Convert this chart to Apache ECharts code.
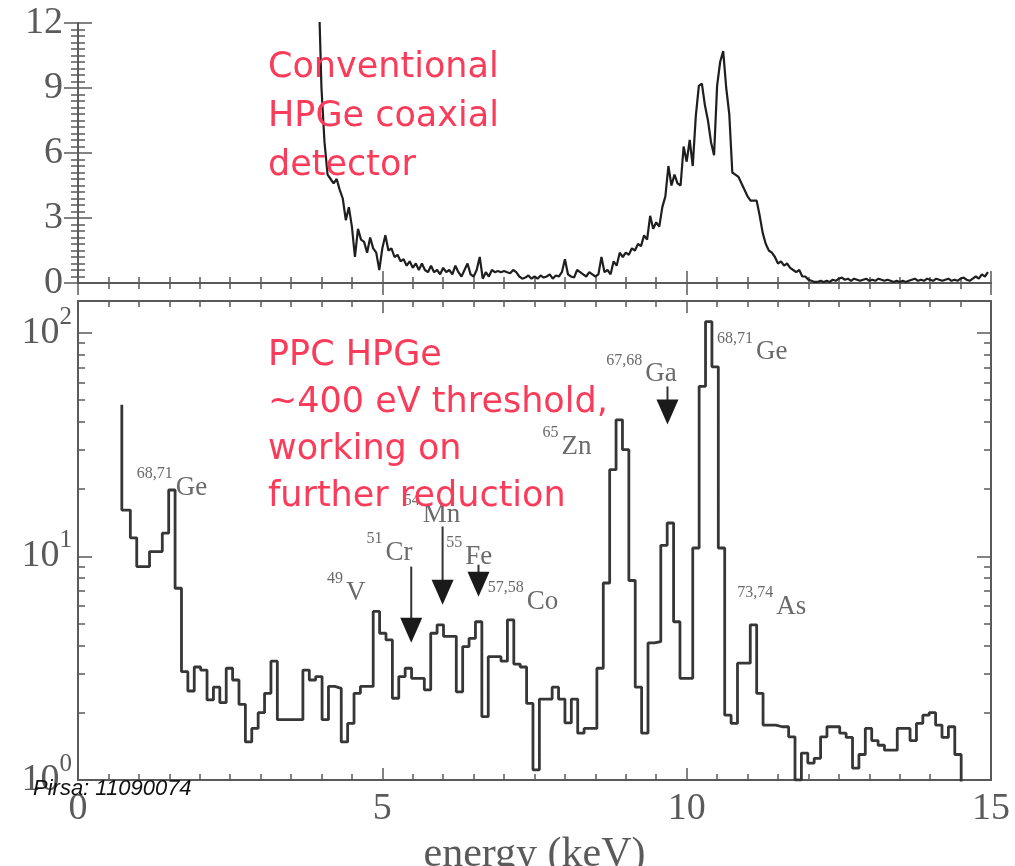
<!DOCTYPE html>
<html><head><meta charset="utf-8">
<script src="https://cdn.jsdelivr.net/npm/echarts@6/dist/echarts.min.js"></script>
<style>html,body{margin:0;padding:0;background:#fff}#c{width:1015px;height:866px}</style>
</head><body><div id="c"></div>
<script>
// ---------- data ----------
const xTickValues = [0, 5, 10, 15];
const topYTickValues = [0, 3, 6, 9, 12];
const logYTickValues = [1, 10, 100];
const logYMinorTicks = [2,3,4,5,6,7,8,9,20,30,40,50,60,70,80,90];

// conventional HPGe coaxial spectrum (upper panel), sampled every 0.05 keV from 3.95 keV
const topStart = 3.95, topStep = 0.05;
const topCounts = [
 14, 9.0, 6.5, 5.0, 4.8, 4.6, 4.8, 4.3, 3.9, 2.9, 3.5, 2.6, 1.2, 2.5, 2.0, 1.9, 1.4, 2.1, 1.6, 1.4,
 0.6, 1.6, 2.2, 1.5, 1.6, 1.2, 1.3, 1.0, 1.1, 0.8, 1.0, 0.7, 0.9, 0.6, 0.9, 0.6, 0.5, 0.8, 0.5, 0.6,
 0.4, 0.7, 0.5, 0.6, 0.4, 0.8, 0.5, 0.3, 0.6, 0.9, 0.4, 0.3, 0.6, 1.2, 0.2, 0.5, 0.3, 0.6, 0.5, 0.55,
 0.5, 0.55, 0.5, 0.45, 0.6, 0.5, 0.3, 0.2, 0.25, 0.35, 0.2, 0.3, 0.2, 0.35, 0.25, 0.3, 0.4, 0.2, 0.35, 0.3,
 0.5, 1.1, 0.4, 0.3, 0.25, 0.6, 0.5, 0.4, 0.3, 0.5, 0.4, 0.3, 0.4, 1.2, 0.5, 0.6, 0.4, 1.0, 0.8, 1.4,
 1.2, 1.4, 1.3, 1.6, 1.5, 1.8, 1.7, 2.2, 2.0, 3.1, 2.5, 2.8, 2.6, 3.5, 4.0, 5.4, 4.5, 5.0, 4.6, 4.5,
 6.3, 5.6, 6.6, 5.4, 7.7, 9.1, 9.2, 8.2, 7.5, 6.5, 5.9, 9.1, 10.2, 10.7, 9.0, 7.8, 5.1, 5.0, 4.9, 4.6,
 4.3, 4.0, 3.8, 3.8, 3.8, 3.1, 2.3, 1.8, 1.5, 1.4, 1.2, 0.9, 1.0, 0.8, 0.9, 0.7, 0.6, 0.5, 0.6, 0.3,
 0.3, 0.15, 0.1, 0.05, 0.05, 0.1, 0.05, 0.1, 0.05, 0.15, 0.1, 0.2, 0.25, 0.15, 0.2, 0.1, 0.2, 0.15, 0.1, 0.15,
 0.2, 0.1, 0.15, 0.1, 0.2, 0.15, 0.1, 0.15, 0.1, 0.05, 0.1, 0.05, 0.1, 0.05, 0.1, 0.15, 0.2, 0.1, 0.15, 0.1,
 0.2, 0.15, 0.1, 0.2, 0.15, 0.1, 0.15, 0.2, 0.1, 0.15, 0.1, 0.2, 0.25, 0.15, 0.1, 0.2, 0.3, 0.2, 0.4, 0.3, 0.5
];

// PPC HPGe histogram (lower panel)
const histThresholdEdge = 0.72, histThresholdCount = 47.6;
const histBinStart = 0.755, histBinWidth = 0.105;
const histCounts = [
 16.1, 12.1, 9.0, 9.0, 10.5, 10.5, 12.7, 19.8, 7.2, 3.05,
 2.5, 3.2, 3.1, 2.28, 2.6, 2.22, 3.16, 2.8, 2.18, 1.48,
 1.70, 2.0, 2.44, 3.4, 1.86, 1.86, 1.86, 1.86, 3.1, 2.8,
 2.9, 1.86, 2.62, 2.57, 1.48, 1.79, 2.44, 2.62, 2.62, 5.67,
 4.53, 4.23, 2.32, 2.9, 3.16, 2.85, 2.85, 2.53, 4.53, 4.94,
 4.39, 4.39, 2.48, 3.95, 4.3, 5.1, 1.92, 3.56, 3.56, 3.4,
 5.2, 3.3, 3.2, 2.2, 1.11, 2.3, 2.3, 2.6, 2.3, 1.8,
 2.3, 1.62, 1.70, 1.70, 3.16, 7.6, 24.4, 40.8, 30, 7.8,
 2.6, 1.62, 4.1, 4.16, 11.2, 14.1, 5.1, 2.85, 2.85, 10.9,
 57.6, 112, 70.4, 10.9, 1.95, 1.79, 3.33, 3.33, 4.94, 2.44,
 1.76, 1.76, 1.73, 1.73, 1.56, 1.0, 1.32, 1.19, 1.25, 1.56,
 1.73, 1.73, 1.62, 1.55, 1.13, 1.3, 1.70, 1.5, 1.43, 1.36,
 1.36, 1.70, 1.70, 1.50, 1.79, 1.95, 2.0, 1.76, 1.55, 1.73,
 1.30, 0.5
];

// isotope annotations (keV, counts)
const isotopeLabels = [
 {sup: '68,71', el: 'Ge', x: 0.965, y: 20.3},
 {sup: '68,71', el: 'Ge', x: 10.50, y: 81.7},
 {sup: '67,68', el: 'Ga', x: 8.68, y: 65.1},
 {sup: '65', el: 'Zn', x: 7.63, y: 31.0},
 {sup: '54', el: 'Mn', x: 5.35, y: 15.4},
 {sup: '51', el: 'Cr', x: 4.74, y: 10.4},
 {sup: '55', el: 'Fe', x: 6.05, y: 9.97},
 {sup: '57,58', el: 'Co', x: 6.73, y: 6.27},
 {sup: '49', el: 'V', x: 4.09, y: 6.88},
 {sup: '73,74', el: 'As', x: 10.83, y: 5.95}
];
const isotopeArrows = [
 {x: 9.685, from: 57.5, to: 38.9},
 {x: 5.99, from: 13.6, to: 6.08},
 {x: 5.475, from: 9.0, to: 4.11},
 {x: 6.58, from: 9.18, to: 6.6}
];

// ---------- build ----------
const topPoints = topCounts.map((v, i) => [+(topStart + i * topStep).toFixed(3), v]);
const histPoints = [[histThresholdEdge, histThresholdCount]];
histCounts.forEach((v, i) => {
  const lo = i === 0 ? histThresholdEdge : histBinStart + i * histBinWidth;
  const hi = histBinStart + (i + 1) * histBinWidth;
  histPoints.push([lo, v], [hi, v]);
});

const AX = '#5a5a5a';
const SERIF = '"Liberation Serif", "DejaVu Serif", serif';
const frameLine = {show: true, lineStyle: {color: AX, width: 2}};

function xAx(grid, pos, labels) {
  return {
    type: 'value', gridIndex: grid, position: pos, min: 0, max: 15, interval: 5,
    axisLine: frameLine,
    axisTick: {show: true, inside: true, length: 12, lineStyle: {color: AX, width: 1.5}},
    minorTick: {show: true, splitNumber: 10, length: 6, lineStyle: {color: AX, width: 1.5}},
    splitLine: {show: false}, minorSplitLine: {show: false},
    axisLabel: labels ? {show: true, margin: 10, fontSize: 38, fontFamily: SERIF, color: AX,
      customValues: xTickValues} : {show: false},
    name: labels ? 'energy (keV)' : '',
    nameLocation: 'middle', nameGap: 54,
    nameTextStyle: {fontSize: 42, fontFamily: SERIF, color: AX}
  };
}
function yLin(pos, labels) {
  return {
    type: 'value', gridIndex: 0, position: pos, min: 0, max: 12, interval: 3,
    axisLine: frameLine,
    axisTick: {show: true, inside: true, length: 14, lineStyle: {color: AX, width: 1.5}},
    minorTick: {show: true, splitNumber: 10, length: 7, lineStyle: {color: AX, width: 1.5}},
    splitLine: {show: false}, minorSplitLine: {show: false},
    axisLabel: labels ? {show: true, margin: 15, fontSize: 38, fontFamily: SERIF, color: AX,
      customValues: topYTickValues} : {show: false}
  };
}
function yLog(pos, minor, labels) {
  return {
    type: 'log', logBase: 10, gridIndex: 1, position: pos, min: 1, max: 138.6,
    axisLine: minor ? {show: false} : frameLine,
    axisTick: {show: true, inside: true, length: minor ? 7 : 14,
      customValues: minor ? logYMinorTicks : logYTickValues,
      lineStyle: {color: AX, width: 1.5}},
    splitLine: {show: false},
    axisLabel: labels ? {
      show: true, margin: 6, customValues: logYTickValues,
      formatter: v => '{b|10}{s|' + Math.round(Math.log10(v)) + '}',
      rich: {
        b: {fontSize: 38, fontFamily: SERIF, color: AX, lineHeight: 56, verticalAlign: 'middle'},
        s: {fontSize: 25, fontFamily: SERIF, color: AX, lineHeight: 22, verticalAlign: 'top'}
      }
    } : {show: false}
  };
}

const option = {
  animation: false,
  backgroundColor: '#fff',
  grid: [
    {left: 78, top: 23, width: 913, height: 260, outerBoundsMode: 'none', containLabel: false},
    {left: 78, top: 301, width: 913, height: 479, outerBoundsMode: 'none', containLabel: false}
  ],
  xAxis: [xAx(0, 'bottom', false), xAx(0, 'top', false), xAx(1, 'bottom', true), xAx(1, 'top', false)],
  yAxis: [yLin('left', true), yLin('right', false),
          yLog('left', false, true), yLog('left', true, false),
          yLog('right', false, false), yLog('right', true, false)],
  series: [
    {type: 'line', xAxisIndex: 0, yAxisIndex: 0, data: topPoints, symbol: 'none',
     lineStyle: {color: '#1f1f1f', width: 2.2}, clip: true, z: 3},
    {type: 'line', xAxisIndex: 2, yAxisIndex: 2, data: histPoints, symbol: 'none',
     lineStyle: {color: '#363636', width: 2.8}, clip: true, z: 3}
  ]
};

const chart = echarts.init(document.getElementById('c'), null, {renderer: 'canvas'});
chart.setOption(option);

const RED = '#fa3c5a';
const LABEL_GRAY = '#6a6a6a';
const graphics = [];
isotopeLabels.forEach(l => {
  const p = chart.convertToPixel({seriesIndex: 1}, [l.x, l.y]);
  graphics.push({
    type: 'text', x: p[0], y: p[1], z: 20,
    style: {
      text: '{s|' + l.sup + '}{m|' + l.el + '}', align: 'left', verticalAlign: 'middle',
      rich: {
        s: {fontSize: 16, fontFamily: SERIF, fill: LABEL_GRAY, lineHeight: 14, verticalAlign: 'top', padding: [0, 3, 0, 0]},
        m: {fontSize: 27, fontFamily: SERIF, fill: LABEL_GRAY, lineHeight: 44, verticalAlign: 'middle'}
      }
    }
  });
});
isotopeArrows.forEach(a => {
  const p1 = chart.convertToPixel({seriesIndex: 1}, [a.x, a.from]);
  const p2 = chart.convertToPixel({seriesIndex: 1}, [a.x, a.to]);
  const hh = 25, hw = 11;
  graphics.push({
    type: 'line', z: 21, shape: {x1: p1[0], y1: p1[1], x2: p2[0], y2: p2[1] - hh + 2},
    style: {stroke: '#333', lineWidth: 2}
  });
  graphics.push({
    type: 'polygon', z: 21,
    shape: {points: [[p2[0] - hw, p2[1] - hh], [p2[0] + hw, p2[1] - hh], [p2[0], p2[1]]]},
    style: {fill: '#1a1a1a'}
  });
});
graphics.push({
  type: 'text', x: 268, y: 43, z: 30,
  style: {text: 'Conventional\nHPGe coaxial\ndetector', font: '35px "DejaVu Sans", sans-serif',
          fill: RED, lineHeight: 49, align: 'left', verticalAlign: 'top'}
});
graphics.push({
  type: 'text', x: 268, y: 332, z: 30,
  style: {text: 'PPC HPGe\n~400 eV threshold,\nworking on\nfurther reduction', font: '35px "DejaVu Sans", sans-serif',
          fill: RED, lineHeight: 47, align: 'left', verticalAlign: 'top'}
});
graphics.push({
  type: 'text', x: 33, y: 789, z: 40,
  style: {text: 'Pirsa: 11090074', font: 'italic 22px "Liberation Sans", Arial, sans-serif',
          fill: '#111', align: 'left', verticalAlign: 'middle'}
});
chart.setOption({graphic: graphics});
</script>
</body></html>
